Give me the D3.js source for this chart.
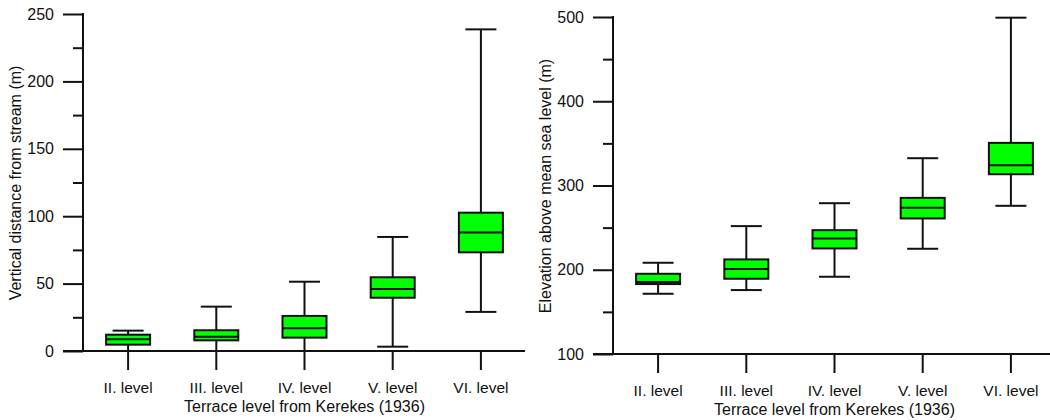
<!DOCTYPE html>
<html><head><meta charset="utf-8">
<script src="https://cdn.jsdelivr.net/npm/d3@7"></script>
<style>
html,body{margin:0;padding:0;background:#fff;}
text{font-family:"Liberation Sans",Arial,sans-serif;fill:#111;}
</style></head>
<body><svg id="c" width="1050" height="420"></svg>
<script>
const categories = ["II. level","III. level","IV. level","V. level","VI. level"];
// Left panel: vertical distance from stream (m)
const distMin = [0, 0, 0, 3.2, 29];
const distQ1 = [4.7, 7.9, 9.9, 39.5, 73.2];
const distMed = [8.7, 10.6, 16.8, 46, 88];
const distQ3 = [12.1, 15.4, 26, 54.7, 102.6];
const distMax = [15.1, 32.9, 51.4, 84.6, 238.6];
const distTicks = [0, 50, 100, 150, 200, 250];
const distMinor = [25, 75, 125, 175, 225];
// Right panel: elevation above mean sea level (m)
const elevMin = [171.5, 175.9, 191.7, 224.9, 275.9];
const elevQ1 = [183, 189.3, 225.3, 260.9, 313.4];
const elevMed = [185.6, 200.8, 237.2, 273.5, 324];
const elevQ3 = [195.2, 212.3, 247, 285.3, 350.6];
const elevMax = [208.3, 251.8, 279, 332.4, 499.2];
const elevTicks = [100, 200, 300, 400, 500];
const elevMinor = [150, 250, 350, 450];
const xTitle = "Terrace level from Kerekes (1936)";

const svg = d3.select("#c");
const ink = "#111";

function panel(o) {
  const g = svg.append("g");
  const x = d3.scaleBand().domain(categories).range([o.x0, o.x1]).paddingInner(0).paddingOuter(0);
  const y = d3.scaleLinear().domain(o.domain).range([o.yBottom, o.yTop]);
  // y axis major
  const ya = g.append("g").attr("transform", `translate(${o.x0 - 1},0)`)
    .call(d3.axisLeft(y).tickValues(o.ticks).tickSize(20).tickPadding(9).tickFormat(d3.format("d")));
  ya.select(".domain").remove();
  ya.selectAll("line").attr("stroke", ink).attr("stroke-width", 2);
  ya.selectAll("text").attr("font-size", 16).attr("fill", ink).style("font-family", '"Liberation Sans",Arial,sans-serif');
  const ym = g.append("g").attr("transform", `translate(${o.x0 - 1},0)`)
    .call(d3.axisLeft(y).tickValues(o.minor).tickSize(10).tickFormat(""));
  ym.select(".domain").remove();
  ym.selectAll("line").attr("stroke", ink).attr("stroke-width", 2);
  // y axis line
  g.append("line").attr("x1", o.x0 - 1).attr("x2", o.x0 - 1)
    .attr("y1", y(o.domain[1]) - 1).attr("y2", o.yBottom + 1)
    .attr("stroke", ink).attr("stroke-width", 2);
  // x axis
  const xa = g.append("g").attr("transform", `translate(0,${o.yBottom})`)
    .call(d3.axisBottom(x).tickSize(19).tickSizeOuter(0).tickPadding(12));
  xa.select(".domain").remove();
  xa.selectAll("line").attr("stroke", ink).attr("stroke-width", 2);
  xa.selectAll("text").attr("font-size", 15.5).attr("fill", ink).style("font-family", '"Liberation Sans",Arial,sans-serif');
  g.append("line").attr("x1", o.x0 - 21).attr("x2", o.xEnd)
    .attr("y1", o.yBottom).attr("y2", o.yBottom)
    .attr("stroke", ink).attr("stroke-width", 2);
  // boxes
  const bw = 44, cw = 31;
  categories.forEach((c, i) => {
    const cx = x(c) + x.bandwidth() / 2;
    g.append("line").attr("x1", cx).attr("x2", cx).attr("y1", y(o.max[i])).attr("y2", y(o.min[i]))
      .attr("stroke", ink).attr("stroke-width", 2);
    [o.max[i], o.min[i]].forEach(v => {
      if (v > o.domain[0]) g.append("line").attr("x1", cx - cw / 2).attr("x2", cx + cw / 2)
        .attr("y1", y(v)).attr("y2", y(v)).attr("stroke", ink).attr("stroke-width", 2);
    });
    g.append("rect").attr("x", cx - bw / 2).attr("width", bw)
      .attr("y", y(o.q3[i])).attr("height", y(o.q1[i]) - y(o.q3[i]))
      .attr("fill", "#00ff00").attr("stroke", ink).attr("stroke-width", 2);
    g.append("line").attr("x1", cx - bw / 2).attr("x2", cx + bw / 2)
      .attr("y1", y(o.med[i])).attr("y2", y(o.med[i])).attr("stroke", ink).attr("stroke-width", 2);
  });
  // titles
  const mid = (x(categories[0]) + x(categories[4]) + x.bandwidth()) / 2;
  g.append("text").attr("x", mid).attr("y", o.yBottom + 61).attr("text-anchor", "middle")
    .attr("font-size", 16).text(xTitle);
  g.append("text").attr("transform", `translate(${o.ytx},${o.yty}) rotate(-90)`)
    .attr("text-anchor", "middle").attr("dy", "0.35em").attr("font-size", 16).text(o.yTitle);
}

panel({x0: 84, x1: 525, xEnd: 525, domain: [0, 250], yBottom: 351, yTop: 14,
  ticks: distTicks, minor: distMinor, min: distMin, q1: distQ1, med: distMed, q3: distQ3, max: distMax,
  yTitle: "Vertical distance from stream (m)", ytx: 15, yty: 183});
panel({x0: 614, x1: 1055, xEnd: 1050, domain: [100, 500], yBottom: 354, yTop: 17,
  ticks: elevTicks, minor: elevMinor, min: elevMin, q1: elevQ1, med: elevMed, q3: elevQ3, max: elevMax,
  yTitle: "Elevation above mean sea level (m)", ytx: 545, yty: 186});
</script></body></html>
